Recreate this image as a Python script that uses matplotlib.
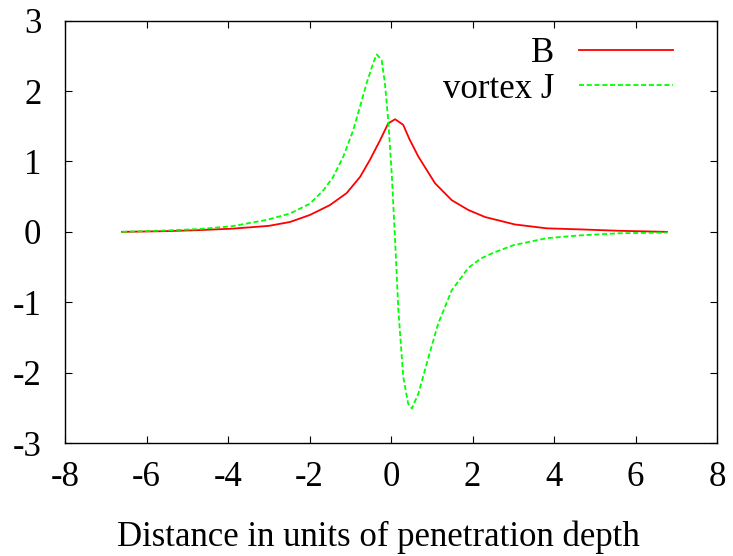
import matplotlib
matplotlib.use("Agg")
import matplotlib.pyplot as plt

# field profile B(x)
b_x = [-6.6, -5.5, -4.7, -3.9, -3.0, -2.48, -1.99, -1.5, -1.09, -0.76, -0.52,
       -0.27, -0.07, 0.1, 0.3, 0.45, 0.67, 1.08, 1.49, 1.9, 2.31, 3.04, 3.82,
       4.64, 5.6, 6.77]
b_y = [0.0, 0.01, 0.025, 0.045, 0.085, 0.14, 0.24, 0.38, 0.55, 0.78, 1.02,
       1.3, 1.54, 1.6, 1.52, 1.32, 1.07, 0.69, 0.45, 0.31, 0.21, 0.105, 0.05,
       0.035, 0.015, 0.0]

# vortex current J(x)
j_x = [-6.6, -5.5, -4.7, -3.9, -3.05, -2.48, -1.99, -1.66, -1.42, -1.17, -0.93,
       -0.76, -0.6, -0.43, -0.35, -0.23, -0.15, -0.07, 0.02, 0.1, 0.18, 0.3,
       0.42, 0.51, 0.67, 0.92, 1.16, 1.49, 1.9, 2.2, 2.5, 3.0, 3.82, 4.64,
       5.6, 6.77]
j_y = [0.0, 0.02, 0.04, 0.08, 0.17, 0.26, 0.4, 0.59, 0.78, 1.07, 1.44,
       1.78, 2.11, 2.41, 2.52, 2.44, 2.11, 1.6, 0.8, -0.12, -1.11, -2.06,
       -2.44, -2.51, -2.3, -1.78, -1.3, -0.83, -0.51, -0.38, -0.3, -0.19, -0.09,
       -0.05, -0.02, -0.01]

x_ticks = [-8, -6, -4, -2, 0, 2, 4, 6, 8]
y_ticks = [-3, -2, -1, 0, 1, 2, 3]

plt.rcParams["font.family"] = ["Liberation Serif", "DejaVu Serif"]
plt.rcParams["font.size"] = 25

fig = plt.figure(figsize=(7.33, 5.56), dpi=100)
ax = fig.add_axes([0.0887, 0.2032, 0.8895, 0.7596])

ax.plot(b_x, b_y, color="#ff0000", lw=1.3, label="B")
ax.plot(j_x, j_y, color="#00ff00", lw=1.3, dashes=(2.8, 1.5), label="vortex J")

ax.set_xlim(-8, 8)
ax.set_ylim(-3, 3)
ax.set_xticks(x_ticks)
ax.set_xticklabels([str(t) for t in x_ticks])
ax.set_yticks(y_ticks)
ax.set_yticklabels([str(t) for t in y_ticks])
ax.tick_params(direction="in", length=5, width=0.8, top=True, right=True)
ax.tick_params(axis="x", pad=13)
ax.tick_params(axis="y", pad=17)
for s in ax.spines.values():
    s.set_linewidth(1.0)

ax.set_xlabel("Distance in units of penetration depth")
ax.xaxis.set_label_coords(0.481, -0.183)

ax.legend(loc="upper right", bbox_to_anchor=(0.9586, 1.003), frameon=False,
          markerfirst=False, borderpad=0, handlelength=2.7, handletextpad=0.72,
          labelspacing=0.08)

fig.savefig("out.png", dpi=100)
